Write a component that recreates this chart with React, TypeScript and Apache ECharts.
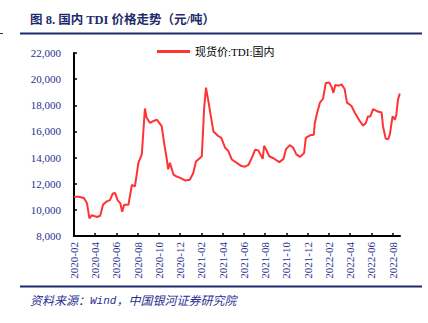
import React, { useEffect, useRef } from "react";
import * as echarts from "echarts";

const seriesName = "现货价:TDI:国内";
const dates = [
  "2020-02-01","2020-02-14","2020-02-28","2020-03-08","2020-03-15","2020-03-22","2020-04-06","2020-04-15","2020-04-23",
  "2020-05-04","2020-05-13","2020-05-21","2020-05-28","2020-06-04","2020-06-12","2020-06-17","2020-06-23","2020-07-05",
  "2020-07-15","2020-07-24","2020-08-03","2020-08-13","2020-08-22","2020-08-27","2020-09-06","2020-09-16","2020-09-25",
  "2020-10-02","2020-10-09","2020-10-16","2020-10-24","2020-10-28","2020-11-02","2020-11-12","2020-11-21","2020-12-01",
  "2020-12-15","2020-12-29","2021-01-08","2021-01-16","2021-01-27","2021-02-02","2021-02-08","2021-02-13","2021-02-20",
  "2021-02-25","2021-03-05","2021-03-19","2021-03-28","2021-04-08","2021-04-17","2021-04-27","2021-05-11","2021-05-25",
  "2021-06-04","2021-06-14","2021-06-23","2021-07-03","2021-07-12","2021-07-25","2021-07-29","2021-08-06","2021-08-13",
  "2021-08-25","2021-09-11","2021-09-23","2021-09-30","2021-10-11","2021-10-21","2021-10-30","2021-11-10","2021-11-21",
  "2021-11-26","2021-12-08","2021-12-19","2021-12-22","2021-12-29","2022-01-06","2022-01-15","2022-01-23","2022-02-02",
  "2022-02-09","2022-02-13","2022-02-18","2022-02-27","2022-03-07","2022-03-16","2022-03-23","2022-04-05","2022-04-14",
  "2022-04-28","2022-05-08","2022-05-16","2022-05-22","2022-05-29","2022-06-06","2022-06-17","2022-06-30","2022-07-04",
  "2022-07-12","2022-07-19","2022-07-24","2022-08-01","2022-08-08","2022-08-12","2022-08-17","2022-08-22"
];
const prices = [
  11000,11000,10900,10500,9350,9600,9450,9550,10400,
  10650,10750,11250,11300,10750,10500,9850,10400,10400,
  11900,11800,13600,14250,17750,17050,16650,16800,16900,
  16650,16400,15150,13850,13100,13600,12700,12550,12450,
  12250,12300,12800,13700,13950,14100,17700,19350,18200,
  17300,16000,15650,15500,14750,14500,13850,13600,13350,
  13300,13450,13950,14600,14550,13900,14900,14500,14100,
  13950,13650,13900,14650,14950,14750,14250,14050,14350,
  15500,15700,15750,16650,17450,18200,18500,19700,19750,
  19350,18950,19550,19500,19600,19250,18200,17950,17450,
  16800,16450,16650,17150,17150,17700,17550,17450,16400,
  15450,15400,15750,17150,16900,17300,18450,18900
];
const tickMonths = [0,2,4,6,8,10,12,14,16,18,20,22,24,26,28,30];
const yTicks = { min: 8000, max: 22000, interval: 2000 };

function monthIndex(d: string): number {
  const [y, m, day] = d.split("-").map(Number);
  const dim = new Date(y, m, 0).getDate();
  return (y - 2020) * 12 + (m - 2) + (day - 1) / dim;
}
function monthLabel(v: number): string {
  const total = Math.round(v) + 1;
  const y = 2020 + Math.floor(total / 12);
  const m = (total % 12) + 1;
  return y + "-" + (m < 10 ? "0" + m : "" + m);
}

const NAVY = "#1f2a6b";
const LABEL = "#2a2f8f";
const SERIF = "'Liberation Serif', 'Times New Roman', 'Noto Sans CJK SC', serif";
const MONO = "'Liberation Mono', 'DejaVu Sans Mono', monospace";

export default function App() {
  const ref = useRef<HTMLDivElement>(null);
  useEffect(() => {
    if (!ref.current) return;
    const chart = echarts.init(ref.current, null, { renderer: "svg" });
    const data = dates.map((d, i) => [monthIndex(d), prices[i]]);
    chart.setOption({
      animation: false,
      backgroundColor: "#ffffff",
      textStyle: { fontFamily: SERIF },
      grid: { left: 74, right: 28, top: 53, bottom: 87, containLabel: false },
      legend: {
        top: 41,
        left: 152,
        icon: "rect",
        itemWidth: 33,
        itemHeight: 3,
        itemGap: 6,
        textStyle: { fontFamily: SERIF, fontSize: 11, color: "#000" },
        data: [seriesName],
      },
      graphic: [
        { type: "text", left: 30, top: 14, style: { text: "图 8. 国内 TDI 价格走势（元/吨）", font: "bold 12.5px " + SERIF, fill: NAVY } },
        { type: "line", shape: { x1: 20, y1: 33.5, x2: 422, y2: 33.5 }, style: { stroke: NAVY, lineWidth: 2 } },
        { type: "line", shape: { x1: 0, y1: 33.5, x2: 3, y2: 33.5 }, style: { stroke: NAVY, lineWidth: 1 } },
        { type: "line", shape: { x1: 20, y1: 286.5, x2: 422, y2: 286.5 }, style: { stroke: NAVY, lineWidth: 2 } },
        {
          type: "text",
          left: 30,
          top: 295,
          style: {
            text: "{a|资料来源：}{b|Wind}{a|，中国银河证券研究院}",
            rich: {
              a: { font: "italic 12px " + SERIF, fill: LABEL },
              b: { font: "italic 11px " + MONO, fill: LABEL },
            },
          },
        },
      ],
      xAxis: {
        type: "value",
        min: 0,
        max: 30.7,
        interval: 2,
        splitLine: { show: false },
        axisLine: { show: true, lineStyle: { color: "#000", width: 2 } },
        axisTick: { show: true, inside: true, length: 3, lineStyle: { color: "#000", width: 1.5 }, customValues: tickMonths },
        axisLabel: {
          rotate: 90,
          margin: 6,
          color: LABEL,
          fontSize: 11,
          fontFamily: SERIF,
          customValues: tickMonths,
          formatter: (v: number) => monthLabel(v),
        },
      },
      yAxis: {
        type: "value",
        min: yTicks.min,
        max: yTicks.max,
        interval: yTicks.interval,
        splitLine: { show: false },
        axisLine: { show: true, lineStyle: { color: "#000", width: 2 } },
        axisTick: { show: true, inside: true, length: 3, lineStyle: { color: "#000", width: 1.5 } },
        axisLabel: {
          margin: 13,
          color: LABEL,
          fontSize: 11,
          fontFamily: SERIF,
          formatter: (v: number) => v.toLocaleString("en-US"),
        },
      },
      series: [
        {
          name: seriesName,
          type: "line",
          data,
          showSymbol: false,
          symbol: "none",
          lineStyle: { color: "#ff3333", width: 2 },
          itemStyle: { color: "#ff3333" },
        },
      ],
    });
    return () => chart.dispose();
  }, []);
  return <div ref={ref} style={{ width: 428, height: 323, position: "absolute", left: 0, top: 0 }} />;
}
